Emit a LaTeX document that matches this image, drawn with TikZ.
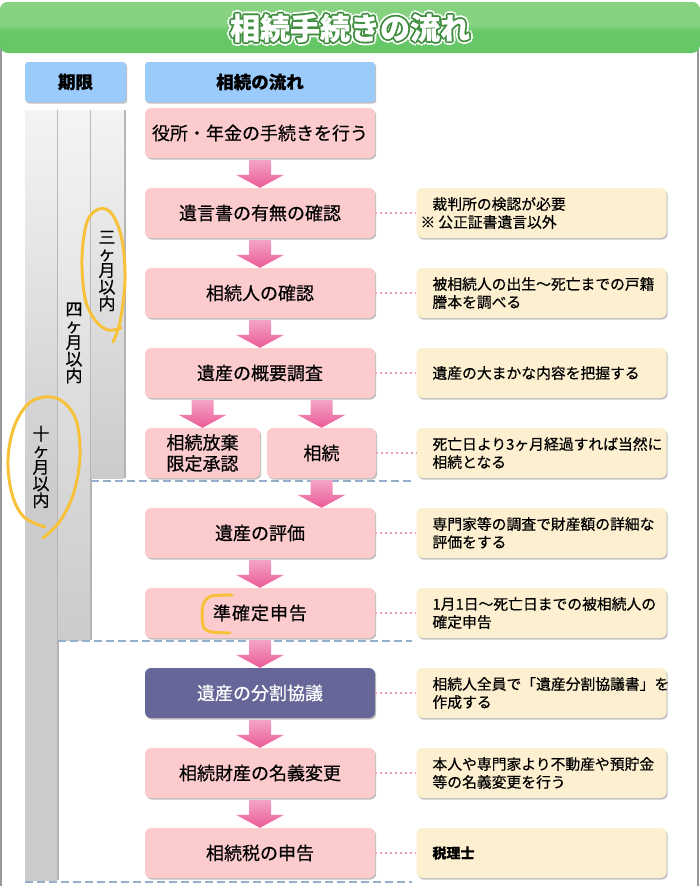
\documentclass[tikz,border=0pt]{standalone}
\usepackage{fontspec}
\setmainfont{Noto Sans CJK JP}[FakeBold=0.5]
\usetikzlibrary{shadows,calc}
\definecolor{pinkbox}{HTML}{FBCBCE}
\definecolor{cream}{HTML}{FDF0D0}
\definecolor{purp}{HTML}{666699}
\definecolor{hdrblue}{HTML}{9ACBFA}
\definecolor{arrtop}{HTML}{F4A3C6}
\definecolor{arrbot}{HTML}{EA5A97}
\definecolor{gtop}{HTML}{86D281}
\definecolor{gbot}{HTML}{66C766}
\definecolor{gdark}{HTML}{3E8E3E}
\definecolor{dashc}{HTML}{94AECB}
\definecolor{dotc}{HTML}{E7A0AE}
\definecolor{markc}{HTML}{F7C23A}
\definecolor{ctop}{HTML}{F4F4F4}
\definecolor{cbot}{HTML}{CBCBCB}
\newcommand{\flowarrow}[2]{%
  \shade[top color=arrtop, bottom color=arrbot]
    let \p1=#1, \p2=#2 in
    ({\x1-11pt},{\y1-2pt}) -- ({\x1+11pt},{\y1-2pt}) -- ({\x1+11pt},{\y2+13pt})
    -- ({\x1+24pt},{\y2+13pt}) -- ({\x1},{\y2}) -- ({\x1-24pt},{\y2+13pt})
    -- ({\x1-11pt},{\y2+13pt}) -- cycle;}
\tikzset{
  boxshadow/.style={drop shadow={shadow xshift=1.2pt, shadow yshift=-1.6pt, opacity=0.35, fill=black!70}},
  flowbox/.style={fill=pinkbox, rounded corners=6pt, minimum width=230pt, minimum height=50pt,
    inner sep=0pt, align=center, font=\fontsize{18}{21}\selectfont, boxshadow},
  infobox/.style={fill=cream, rounded corners=6pt, minimum width=250pt, minimum height=50pt,
    text width=218pt, inner xsep=16pt, inner ysep=0pt, align=left,
    font=\fontsize{14.8}{18}\selectfont, boxshadow},
  hdr/.style={fill=hdrblue, rounded corners=3pt, minimum height=40pt, inner sep=0pt,
    font=\bfseries\fontsize{17.5}{20}\selectfont, boxshadow},
  colbar/.style={anchor=north west, inner sep=0pt, top color=ctop, bottom color=cbot,
    drop shadow={shadow xshift=1.5pt, shadow yshift=0pt, opacity=0.3, fill=black}},
  vtext/.style={align=center, inner sep=0pt, font=\fontsize{17}{16.6}\selectfont},
  titletxt/.style={inner sep=0pt, font=\bfseries\fontsize{30}{32}\selectfont},
  link/.style={dotc, line width=1.5pt, dash pattern=on 1.5pt off 3.5pt},
  sep/.style={dashc, line width=1.5pt, dash pattern=on 8pt off 4pt},
  circled/.style={markc, line width=3pt, line cap=round, line join=round}
}
\begin{document}
\begin{tikzpicture}[x=1pt,y=-1pt]
\useasboundingbox (0,0) rectangle (700,886);
\fill[white] (0,0) rectangle (700,886);
% frame
\draw[black!40, line width=1.5pt] (1,45) -- (1,886);
\draw[black!40, line width=1.5pt] (698,45) -- (698,886);
% title bar
\begin{scope}
  \clip[rounded corners=8pt] (0,2) rectangle (700,53);
  \fill[gbot] (0,0) rectangle (700,60);
  \fill[gtop] (0,0) rectangle (700,24);
  \shade[top color=gtop, bottom color=gbot] (0,24) rectangle (700,32);
\end{scope}
\foreach \a in {0,45,...,315}
  \node[titletxt, text=white] (tw\a) at ($(350,28)+(\a:3.6)$) {相続手続きの流れ};
\foreach \a in {0,45,...,315}
  \node[titletxt, text=gdark] (tg\a) at ($(350,28)+(\a:1.8)$) {相続手続きの流れ};
\node[titletxt, text=white] (title) at (350,28) {相続手続きの流れ};
% headers
\node[hdr, minimum width=101pt] (hq) at (75.5,82) {期限};
\node[hdr, minimum width=230pt] (hf) at (260,82) {相続の流れ};
% period columns
\node[colbar, minimum width=32pt, minimum height=770pt, middle color=cbot] (col10) at (25,110) {};
\node[colbar, minimum width=32pt, minimum height=530pt] (col4) at (58,110) {};
\node[colbar, minimum width=33pt, minimum height=368pt] (col3) at (91,110) {};
\node[vtext] (v3) at (107,271) {三\\ヶ\\月\\以\\内};
\node[vtext] (v4) at (74,343) {四\\ヶ\\月\\以\\内};
\node[vtext] (v10) at (41,467) {十\\ヶ\\月\\以\\内};
% separators
\draw[sep] (91,481) -- (412,481);
\draw[sep] (58,641) -- (412,641);
\draw[sep] (25,882) -- (412,882);
% flow boxes
\node[flowbox] (b1) at (260,133) {役所・年金の手続きを行う};
\node[flowbox] (b2) at (260,213) {遺言書の有無の確認};
\node[flowbox] (b3) at (260,293) {相続人の確認};
\node[flowbox] (b4) at (260,373) {遺産の概要調査};
\node[flowbox, minimum width=115pt] (b5a) at (202.5,453) {相続放棄\\限定承認};
\node[flowbox, minimum width=109pt] (b5b) at (321.5,453) {相続};
\node[flowbox] (b6) at (260,533) {遺産の評価};
\node[flowbox] (b7) at (260,613) {準\hspace{1pt}確\hspace{1pt}定\hspace{1pt}申\hspace{1pt}告};
\node[flowbox, fill=purp, text=white] (b8) at (260,693) {遺産の分割協議};
\node[flowbox] (b9) at (260,773) {相続財産の名義変更};
\node[flowbox] (b10) at (260,853) {相続税の申告};
% arrows
\flowarrow{(b1.south)}{(b2.north)}
\flowarrow{(b2.south)}{(b3.north)}
\flowarrow{(b3.south)}{(b4.north)}
\flowarrow{(b4.south -| b5a.north)}{(b5a.north)}
\flowarrow{(b4.south -| b5b.north)}{(b5b.north)}
\flowarrow{(b5b.south)}{(b6.north -| b5b.south)}
\flowarrow{(b6.south)}{(b7.north)}
\flowarrow{(b7.south)}{(b8.north)}
\flowarrow{(b8.south)}{(b9.north)}
\flowarrow{(b9.south)}{(b10.north)}
% info boxes
\node[infobox] (i2) at (541.5,213) {裁判所の検認が必要\\\hspace*{-12pt}※\hspace{3pt}公正証書遺言以外};
\node[infobox] (i3) at (541.5,293) {被相続人の出生～死亡までの戸籍\\謄本を調べる};
\node[infobox] (i4) at (541.5,373) {遺産の大まかな内容を把握する};
\node[infobox] (i5) at (541.5,453) {死亡日より3ヶ月経過すれば当然に\\相続となる};
\node[infobox] (i6) at (541.5,533) {専門家等の調査で財産額の詳細な\\評価をする};
\node[infobox] (i7) at (541.5,613) {1月1日～死亡日までの被相続人の\\確定申告};
\node[infobox] (i8) at (541.5,693) {相続人全員で「遺産分割協議書」を\\作成する};
\node[infobox] (i9) at (541.5,773) {本人や専門家より不動産や預貯金\\等の名義変更を行う};
\node[infobox] (i10) at (541.5,853) {\bfseries\fontsize{14}{18}\selectfont 税理士};
% dotted links
\draw[link] (b2.east) -- (i2.west);
\draw[link] (b3.east) -- (i3.west);
\draw[link] (b4.east) -- (i4.west);
\draw[link] (b5b.east) -- (i5.west);
\draw[link] (b6.east) -- (i6.west);
\draw[link] (b7.east) -- (i7.west);
\draw[link] (b8.east) -- (i8.west);
\draw[link] (b9.east) -- (i9.west);
\draw[link] (b10.east) -- (i10.west);
% hand-drawn marks
\draw[circled] plot[smooth, tension=0.6] coordinates {(113,342) (120,322) (125,280) (122,240) (112,214) (99,209) (87,222) (82,258) (85,298) (95,320) (108,330) (121,328)};
\draw[circled] plot[smooth, tension=0.6] coordinates {(43,538) (60,521) (74,492) (80,455) (76,420) (62,401) (45,397) (28,404) (14,427) (8,460) (12,494) (24,517) (45,527)};
\draw[circled] plot[smooth, tension=0.5] coordinates {(232,595) (212,596) (204,602) (202,615) (204,628) (212,632) (230,633)};
\end{tikzpicture}
\end{document}
